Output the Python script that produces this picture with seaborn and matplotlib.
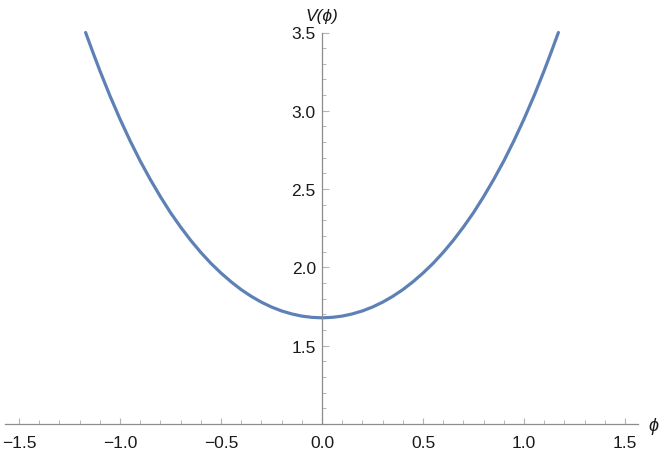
import numpy as np
import pandas as pd
import matplotlib
matplotlib.use("Agg")
import matplotlib.pyplot as plt
import seaborn as sns
from matplotlib.ticker import FixedLocator

phi = [-1.17, -1.135, -1.1, -1.05, -1.0, -0.95, -0.9, -0.85, -0.8, -0.75, -0.7, -0.65,
       -0.6, -0.55, -0.5, -0.45, -0.4, -0.35, -0.3, -0.25, -0.2, -0.15, -0.1, -0.05, 0.0,
       0.05, 0.1, 0.15, 0.2, 0.25, 0.3, 0.35, 0.4, 0.45, 0.5, 0.55, 0.6, 0.65,
       0.7, 0.75, 0.8, 0.85, 0.9, 0.95, 1.0, 1.05, 1.1, 1.135, 1.17]
V = [3.500, 3.377, 3.258, 3.097, 2.948, 2.809, 2.680, 2.562, 2.452, 2.350, 2.258, 2.173,
     2.096, 2.026, 1.964, 1.908, 1.858, 1.815, 1.778, 1.747, 1.722, 1.703, 1.689, 1.681, 1.678,
     1.681, 1.689, 1.703, 1.722, 1.747, 1.778, 1.815, 1.858, 1.908, 1.964, 2.026, 2.096, 2.173,
     2.258, 2.350, 2.452, 2.562, 2.680, 2.809, 2.948, 3.097, 3.258, 3.377, 3.500]

x_major = [-1.5, -1.0, -0.5, 0.0, 0.5, 1.0, 1.5]
x_labels = ["\u22121.5", "\u22121.0", "\u22120.5", "0.0", "0.5", "1.0", "1.5"]
y_major = [1.5, 2.0, 2.5, 3.0, 3.5]
y_labels = ["1.5", "2.0", "2.5", "3.0", "3.5"]

sns.set_style("white")
plt.rcParams['font.family'] = ['Liberation Sans', 'DejaVu Sans']

W, H = 664, 456
fig = plt.figure(figsize=(W / 100, H / 100), dpi=100)
ax = fig.add_axes([5 / W, 1 - 425 / H, 633 / W, (425 - 33.5) / H])

df = pd.DataFrame({"phi": phi, "V": V})
sns.lineplot(data=df, x="phi", y="V", ax=ax, color="#5E81B5", linewidth=2.3,
             sort=False, estimator=None, clip_on=False)

ax.set_xlim(-1.569, 1.564)
ax.set_ylim(1.0, 3.5)

for s in ["top", "right"]:
    ax.spines[s].set_visible(False)
ax.spines["left"].set_position(("data", 0.0))
axis_col = "#8c8c8c"
for s in ["left", "bottom"]:
    ax.spines[s].set_color(axis_col)
    ax.spines[s].set_linewidth(0.9)

ax.set_xticks(x_major)
ax.set_xticklabels(x_labels)
ax.set_yticks(y_major)
ax.set_yticklabels(y_labels)
xminor = [round(v / 10, 1) for v in range(-15, 16) if v % 5 != 0]
yminor = [round(v / 10, 1) for v in range(11, 35) if v % 5 != 0]
ax.xaxis.set_minor_locator(FixedLocator(xminor))
ax.yaxis.set_minor_locator(FixedLocator(yminor))

tick_col = "#b5b5b5"
lab_col = "#1a1a1a"
fs = 12.5
ax.tick_params(axis="x", which="both", bottom=True, top=False)
ax.tick_params(axis="y", which="both", left=True, right=False)
ax.tick_params(axis="x", which="major", direction="in", length=4.3, width=0.8,
               color=tick_col, pad=7.8, labelsize=fs, labelcolor=lab_col)
ax.tick_params(axis="x", which="minor", direction="in", length=2.6, width=0.7, color=tick_col)
ax.tick_params(axis="y", which="major", direction="in", length=4.8, width=0.8,
               color=tick_col, pad=4.5, labelsize=fs, labelcolor=lab_col)
ax.tick_params(axis="y", which="minor", direction="in", length=3.0, width=0.7, color=tick_col)

ax.set_xlabel("")
ax.set_ylabel("")

fig.text(653 / W, 1 - 427 / H, "\u03d5", ha="center", va="center", fontsize=13,
         style="italic", color=lab_col)
fig.text(322 / W, 1 - 16 / H, "V(\u03d5)", ha="center", va="center", fontsize=12.5,
         style="italic", color=lab_col)

fig.savefig("out.png", dpi=100)
